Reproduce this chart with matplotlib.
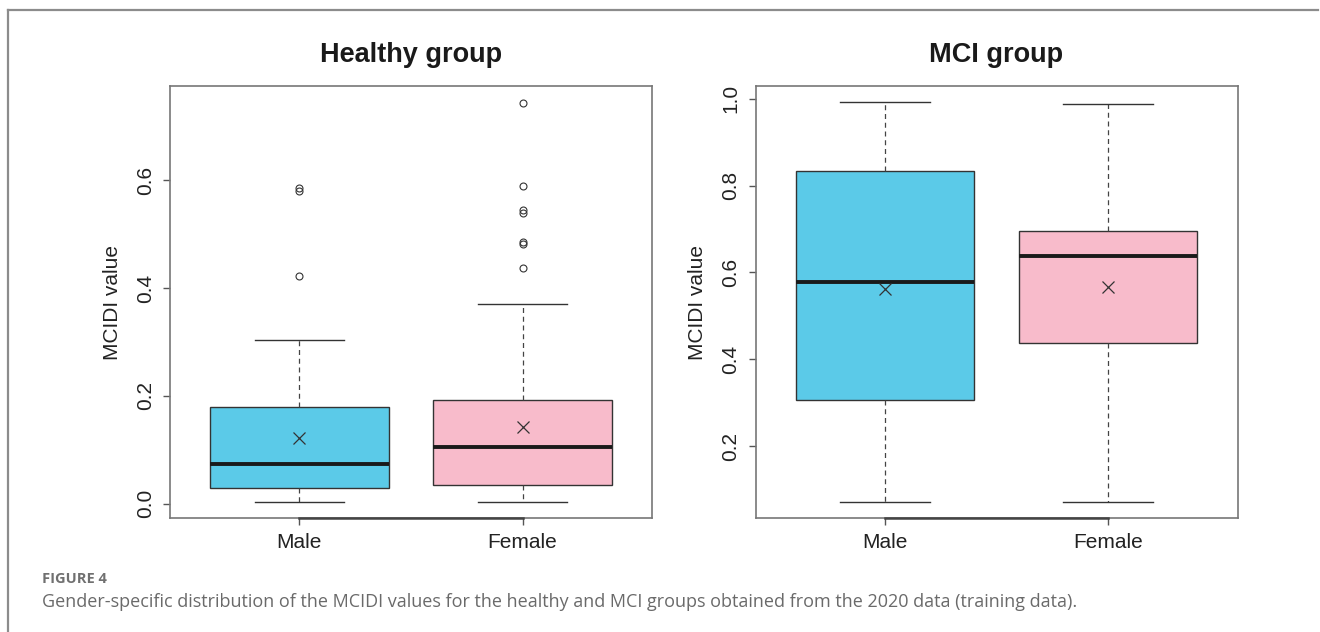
import matplotlib
matplotlib.use("Agg")
import matplotlib.pyplot as plt
from matplotlib.lines import Line2D

plt.rcParams['font.family'] = ['Liberation Sans', 'DejaVu Sans']

# summary statistics read per group: Male, Female
groups = ["Male", "Female"]
fill_colors = ["#5BCAE8", "#F8BBCB"]

healthy_whislo = [0.003, 0.003]
healthy_q1 = [0.029, 0.034]
healthy_med = [0.074, 0.105]
healthy_q3 = [0.180, 0.193]
healthy_whishi = [0.303, 0.371]
healthy_mean = [0.122, 0.143]
healthy_fliers = [[0.586, 0.579, 0.423],
                  [0.744, 0.589, 0.545, 0.540, 0.486, 0.481, 0.437]]

mci_whislo = [0.072, 0.072]
mci_q1 = [0.306, 0.437]
mci_med = [0.578, 0.637]
mci_q3 = [0.833, 0.696]
mci_whishi = [0.992, 0.988]
mci_mean = [0.562, 0.567]
mci_fliers = [[], []]

W, H = 1320, 632
fig = plt.figure(figsize=(W / 100, H / 100), dpi=100)


def make_stats(whislo, q1, med, q3, whishi, mean, fliers):
	stats = []
	for i in range(len(groups)):
		stats.append(dict(label=groups[i], whislo=whislo[i], q1=q1[i], med=med[i],
						  q3=q3[i], whishi=whishi[i], mean=mean[i], fliers=fliers[i]))
	return stats


def draw_panel(ax, stats, title, ylim, yticks):
	bp = ax.bxp(stats, positions=[1, 2], widths=0.8, capwidths=0.4,
				patch_artist=True, showmeans=True, showfliers=True,
				boxprops=dict(edgecolor="#333333", linewidth=1.0),
				medianprops=dict(color="#1a1a1a", linewidth=2.8, solid_capstyle="butt"),
				whiskerprops=dict(color="#444444", linewidth=0.9, linestyle=(0, (4, 3))),
				capprops=dict(color="#333333", linewidth=1.0),
				meanprops=dict(marker="x", markeredgecolor="#333333", markersize=9,
							   markeredgewidth=0.9),
				flierprops=dict(marker="o", markerfacecolor="none", markeredgecolor="#333333",
								markersize=5, markeredgewidth=0.8))
	for patch, c in zip(bp["boxes"], fill_colors):
		patch.set_facecolor(c)

	ax.set_xlim(0.42, 2.58)
	ax.set_ylim(*ylim)
	ax.set_yticks(yticks)
	ax.set_yticklabels([f"{t:.1f}" for t in yticks])
	ax.set_xticks([1, 2])
	ax.set_xticklabels(groups)

	for s in ax.spines.values():
		s.set_color("#777777")
		s.set_linewidth(1.2)
	ax.tick_params(axis="both", direction="out", length=5, width=1.0, color="#555555",
				   labelsize=15, labelcolor="#222222")
	ax.tick_params(axis="y", pad=6)
	ax.tick_params(axis="x", pad=6)
	for lab in ax.get_yticklabels():
		lab.set_rotation(90)
		lab.set_va("center")

	# axis line between the outer ticks, as base R draws it
	ax.plot([1, 2], [ylim[0], ylim[0]], color="#444444", linewidth=1.8,
			clip_on=False, zorder=5)

	ax.set_ylabel("MCIDI value", fontsize=15, color="#222222", labelpad=10)
	ax.set_title(title, fontsize=19.5, fontweight="bold", color="#1a1a1a", pad=17)


ax1 = fig.add_axes([170 / W, 1 - 518 / H, 482 / W, 432 / H])
draw_panel(ax1, make_stats(healthy_whislo, healthy_q1, healthy_med, healthy_q3,
						   healthy_whishi, healthy_mean, healthy_fliers),
		   "Healthy group", (-0.0267, 0.7747), [0.0, 0.2, 0.4, 0.6])

ax2 = fig.add_axes([755.5 / W, 1 - 518 / H, 482 / W, 432 / H])
draw_panel(ax2, make_stats(mci_whislo, mci_q1, mci_med, mci_q3,
						   mci_whishi, mci_mean, mci_fliers),
		   "MCI group", (0.035, 1.029), [0.2, 0.4, 0.6, 0.8, 1.0])

# caption below the panels
fig.text(42 / W, 1 - 579 / H, "FIGURE 4", fontsize=10.5, fontweight="bold",
		 color="#707070", va="center", ha="left", family=["Open Sans", "DejaVu Sans"])
fig.text(42 / W, 1 - 602 / H,
		 "Gender-specific distribution of the MCIDI values for the healthy and MCI groups "
		 "obtained from the 2020 data (training data).",
		 fontsize=13, color="#6a6a6a", va="center", ha="left",
		 family=["Open Sans", "DejaVu Sans"])

# frame around the figure block
fig.add_artist(Line2D([8 / W, 1318 / W], [1 - 10 / H, 1 - 10 / H],
					  color="#8c8c8c", linewidth=1.6))
fig.add_artist(Line2D([8 / W, 8 / W], [0, 1 - 10 / H],
					  color="#8c8c8c", linewidth=1.6))

fig.savefig("out.png", dpi=100)
